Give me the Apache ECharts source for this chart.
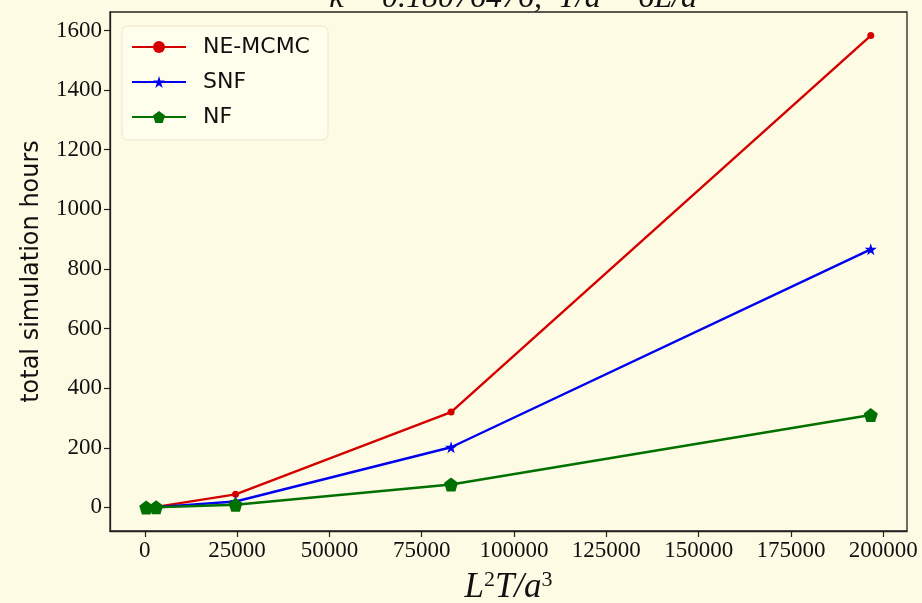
<!DOCTYPE html>
<html>
<head>
<meta charset="utf-8">
<script src="https://cdn.jsdelivr.net/npm/echarts@6/dist/echarts.min.js"></script>
<style>
  html, body { margin: 0; padding: 0; background: #fefbe4; }
  #chart { width: 922px; height: 603px; }
</style>
</head>
<body>
<div id="chart"></div>
<script>
// Lattice volume measure L^2 T / a^3 with T = 6L (L/a = 4, 8, 16, 24, 32)
const volumes = [384, 3072, 24576, 82944, 196608];

// Total simulation hours per method
const neMcmcHours = [0.2, 2, 44, 320, 1583];
const snfHours = [0.1, 1, 20, 202, 866];
const nfHours = [0.1, 0.6, 9, 77, 310];

const xTicks = [0, 25000, 50000, 75000, 100000, 125000, 150000, 175000, 200000];
const yTicks = [0, 200, 400, 600, 800, 1000, 1200, 1400, 1600];

const seriesNames = ['NE-MCMC', 'SNF', 'NF'];
const seriesColors = ['#d40000', '#0000f0', '#007000'];

const starPath = 'path://M50,0 L61.8,35.5 L100,36.3 L69.1,58.8 L80.9,95.1 L50,72.6 L19.1,95.1 L30.9,58.8 L0,36.3 L38.2,35.5 Z';
const pentagonPath = 'path://M50,0 L100,36.3 L80.9,95.1 L19.1,95.1 L0,36.3 Z';

const pairs = (ys) => volumes.map((x, i) => [x, ys[i]]);

const chart = echarts.init(document.getElementById('chart'), null, { renderer: 'canvas' });

const serifFont = '"Liberation Serif", "DejaVu Serif", serif';
const sansFont = '"DejaVu Sans", "Noto Sans", sans-serif';
const plain = (v) => String(v);

chart.setOption({
  backgroundColor: '#fefbe4',
  animation: false,
  title: {
    text: 'κ = 0.18076476,  T/a = 6L/a',
    left: 508,
    textAlign: 'center',
    top: -22,
    textStyle: { fontFamily: serifFont, fontStyle: 'italic', fontWeight: 'normal', fontSize: 32, color: '#111' }
  },
  grid: {
    left: 110, right: 15, top: 12, bottom: 72,
    outerBoundsMode: 'none',
    containLabel: false,
    show: true, borderColor: '#222', borderWidth: 1.3, backgroundColor: 'transparent'
  },
  legend: {
    orient: 'vertical',
    left: 122, top: 26,
    data: seriesNames,
    itemWidth: 54, itemHeight: 15,
    itemGap: 13,
    padding: [10, 18, 12, 9],
    backgroundColor: 'rgba(255,253,236,0.85)',
    borderColor: '#eee6cc', borderWidth: 1, borderRadius: 6,
    textStyle: { fontFamily: sansFont, fontSize: 22, color: '#111', padding: [0, 0, 0, 12] }
  },
  xAxis: {
    type: 'value',
    min: -9427, max: 206419,
    name: '{i|L}{s|2}{i|T/a}{s|3}',
    nameLocation: 'middle', nameGap: 38,
    nameTextStyle: {
      rich: {
        i: { fontFamily: serifFont, fontStyle: 'italic', fontSize: 35, color: '#111' },
        s: { fontFamily: serifFont, fontSize: 22, color: '#111', verticalAlign: 'top', padding: [0, 0, 15, 0] }
      }
    },
    axisLine: { show: true, onZero: false, lineStyle: { color: '#222', width: 1.3 } },
    axisTick: { show: true, length: 6, inside: false, customValues: xTicks, lineStyle: { color: '#222', width: 1.2 } },
    axisLabel: { customValues: xTicks, formatter: plain, fontFamily: serifFont, fontSize: 23, color: '#111', margin: 8, showMinLabel: true, showMaxLabel: true },
    splitLine: { show: false }
  },
  yAxis: {
    type: 'value',
    min: -79, max: 1662,
    name: 'total simulation hours',
    nameLocation: 'middle', nameGap: 66,
    nameTextStyle: { fontFamily: sansFont, fontSize: 24, color: '#111' },
    axisLine: { show: true, onZero: false, lineStyle: { color: '#222', width: 1.3 } },
    axisTick: { show: true, length: 6, inside: false, customValues: yTicks, lineStyle: { color: '#222', width: 1.2 } },
    axisLabel: { customValues: yTicks, formatter: plain, fontFamily: serifFont, fontSize: 23, color: '#111', margin: 8 },
    splitLine: { show: false }
  },
  series: [
    {
      name: seriesNames[0], type: 'line', data: pairs(neMcmcHours),
      symbol: 'circle', symbolSize: 7, showAllSymbol: true,
      lineStyle: { color: seriesColors[0], width: 2.4 },
      itemStyle: { color: seriesColors[0] }, z: 2
    },
    {
      name: seriesNames[1], type: 'line', data: pairs(snfHours),
      symbol: starPath, symbolSize: 12, showAllSymbol: true,
      lineStyle: { color: seriesColors[1], width: 2.4 },
      itemStyle: { color: seriesColors[1] }, z: 3
    },
    {
      name: seriesNames[2], type: 'line', data: pairs(nfHours),
      symbol: pentagonPath, symbolSize: 14, showAllSymbol: true,
      lineStyle: { color: seriesColors[2], width: 2.4 },
      itemStyle: { color: seriesColors[2] }, z: 4
    }
  ]
});
</script>
</body>
</html>
